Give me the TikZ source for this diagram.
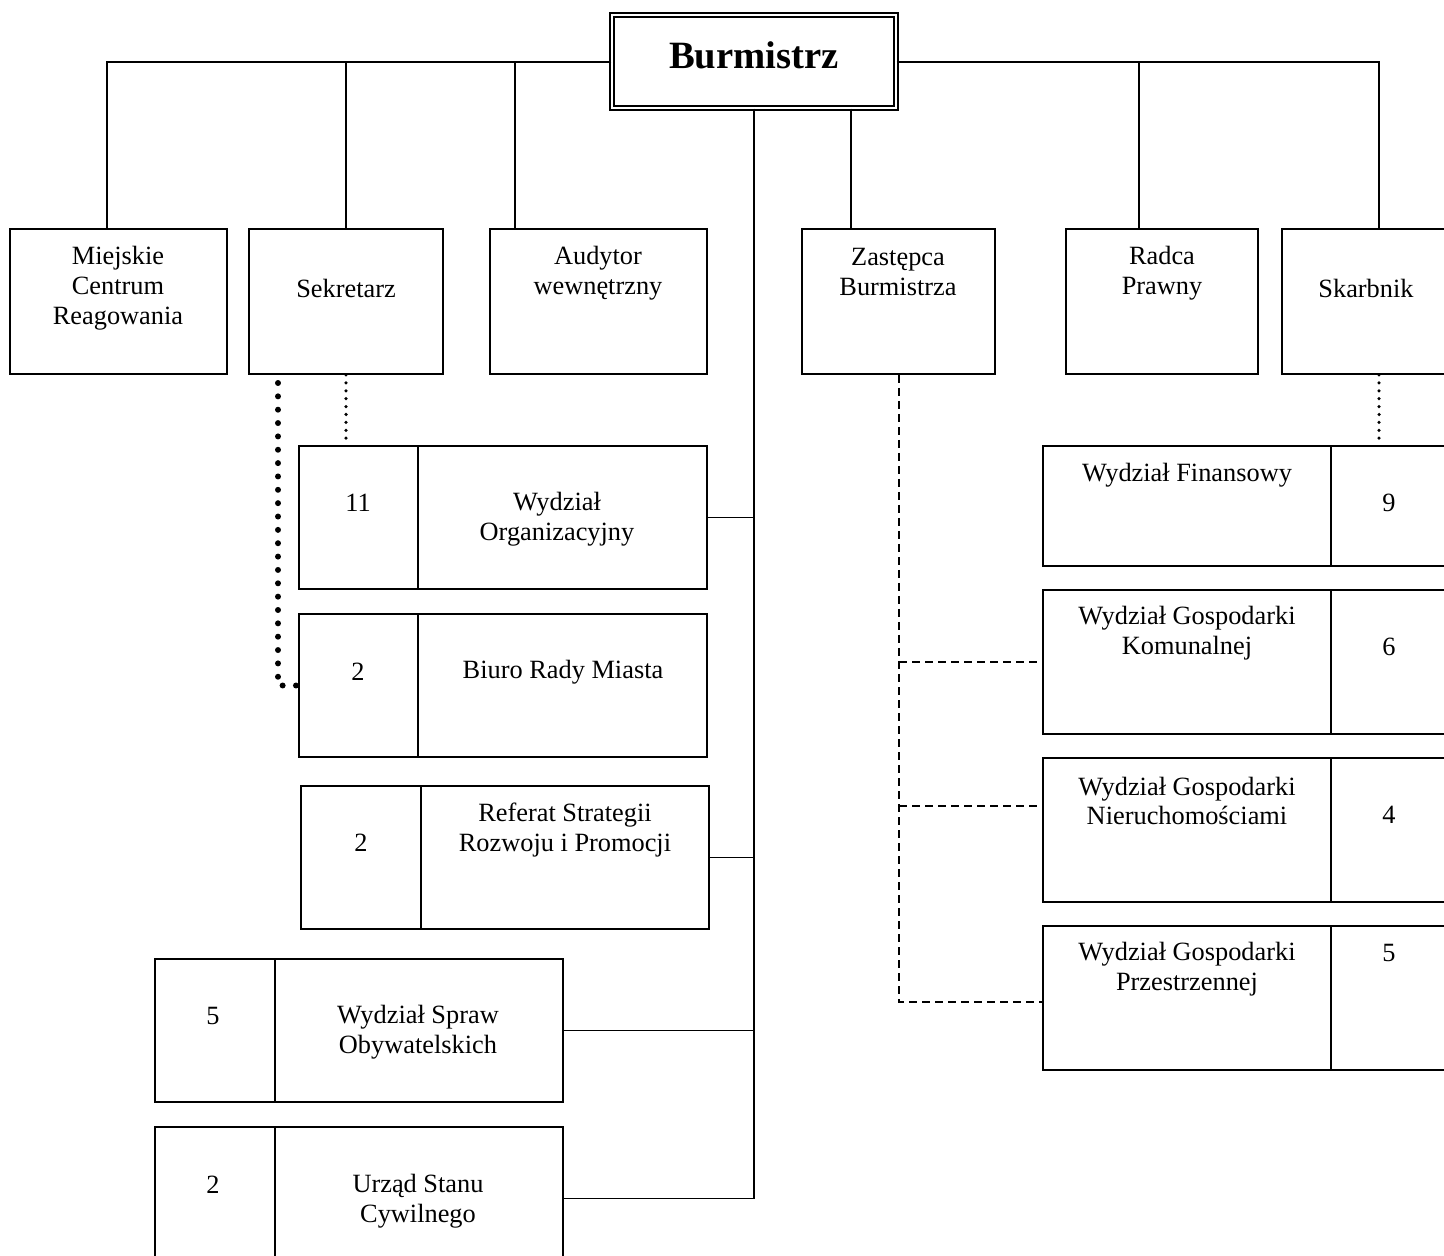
\documentclass[tikz,border=0pt]{standalone}
\usepackage{fontspec}
\setmainfont{Liberation Serif}
\usepackage{tikz}
\usetikzlibrary{positioning,fit,calc}
\tikzstyle{unitbox} = [rectangle, draw=black, line width=1.1pt, inner sep=0pt]
\tikzstyle{headbox} = [rectangle, draw=black, line width=0.8pt, double, double distance=1.6pt, inner sep=0pt]
\tikzstyle{txt} = [align=center, inner sep=0pt, font=\fontsize{15}{17}\selectfont]
\tikzstyle{link} = [line width=1.1pt]
\tikzstyle{dashlink} = [line width=1.1pt, dash pattern=on 4.6pt off 2.8pt]
\tikzstyle{dotlink} = [line width=2pt, line cap=round, dash pattern=on 0pt off 4.5pt]
\tikzstyle{bigdotlink} = [line width=3.4pt, line cap=round, dash pattern=on 0pt off 7.6pt]

\begin{document}
\begin{tikzpicture}[x=0.02cm, y=-0.02cm]
\clip (0,0) rectangle (1444,1256);
\fill[white] (0,0) rectangle (1444,1256);

% Head
\node[headbox, fit={(612,15) (896,108)}] (burm) {};
\node[font=\fontsize{22}{26}\selectfont\bfseries, inner sep=0pt] (burmtxt) at (754,55) {Burmistrz};

% Top row
\node[unitbox, fit={(10,229) (227,374)}] (mcr) {};
\node[txt] at (118,288) {Miejskie\\Centrum\\Reagowania};
\node[unitbox, fit={(249,229) (443,374)}] (sek) {};
\node[txt] at (346,288) {Sekretarz};
\node[unitbox, fit={(490,229) (707,374)}] (aud) {};
\node[txt] at (598,273) {Audytor\\wewnętrzny};
\node[unitbox, fit={(802,229) (995,374)}] (zast) {};
\node[txt] at (898,272) {Zastępca\\Burmistrza};
\node[unitbox, fit={(1066,229) (1258,374)}] (radca) {};
\node[txt] at (1162,273) {Radca\\Prawny};
\node[unitbox, fit={(1282,229) (1470,374)}] (skarb) {};
\node[txt] at (1366,288) {Skarbnik};

% Left column
\node[unitbox, fit={(299,446) (707,589)}] (org) {};
\draw[link] (418,446) -- (418,589);
\node[txt] at (358,503) {11};
\node[txt] at (557,519) {Wydział\\Organizacyjny};

\node[unitbox, fit={(299,614) (707,757)}] (brm) {};
\draw[link] (418,614) -- (418,757);
\node[txt] at (358,672) {2};
\node[txt] at (563,672) {Biuro Rady Miasta};

\node[unitbox, fit={(301,786) (709,929)}] (ref) {};
\draw[link] (421,786) -- (421,929);
\node[txt] at (361,843) {2};
\node[txt] at (565,830) {Referat Strategii\\Rozwoju i Promocji};

\node[unitbox, fit={(155,959) (563,1102)}] (wso) {};
\draw[link] (275,959) -- (275,1102);
\node[txt] at (213,1016) {5};
\node[txt] at (418,1032) {Wydział Spraw\\Obywatelskich};

\node[unitbox, fit={(155,1127) (563,1270)}] (usc) {};
\draw[link] (275,1127) -- (275,1270);
\node[txt] at (213,1185) {2};
\node[txt] at (418,1201) {Urząd Stanu\\Cywilnego};

% Right column
\node[unitbox, fit={(1043,446) (1470,566)}] (wf) {};
\draw[link] (1331,446) -- (1331,566);
\node[txt] at (1187,475) {Wydział Finansowy};
\node[txt] at (1389,503) {9};

\node[unitbox, fit={(1043,590) (1470,734)}] (wgk) {};
\draw[link] (1331,590) -- (1331,734);
\node[txt] at (1187,633) {Wydział Gospodarki\\Komunalnej};
\node[txt] at (1389,647) {6};

\node[unitbox, fit={(1043,758) (1470,902)}] (wgn) {};
\draw[link] (1331,758) -- (1331,902);
\node[txt] at (1187,801) {Wydział Gospodarki\\Nieruchomościami};
\node[txt] at (1389,815) {4};

\node[unitbox, fit={(1043,926) (1470,1070)}] (wgp) {};
\draw[link] (1331,926) -- (1331,1070);
\node[txt] at (1187,969) {Wydział Gospodarki\\Przestrzennej};
\node[txt] at (1389,953) {5};

% Top bar
\coordinate (barL) at (107,62);
\coordinate (barS) at (346,62);
\coordinate (barA) at (515,62);
\coordinate (barP) at (1139,62);
\coordinate (barR) at (1379,62);
\draw[link] (burm.west |- barL) -- (barL) -- (barL |- mcr.north);
\draw[link] (barS) -- (barS |- sek.north);
\draw[link] (barA) -- (barA |- aud.north);
\draw[link] (burm.east |- barR) -- (barR) -- (barR |- skarb.north);
\draw[link] (barP) -- (barP |- radca.north);
\coordinate (zdrop) at (851,0);
\draw[link] (zdrop |- burm.south) -- (zdrop |- zast.north);

% Trunk
\draw[link] (burm.south) -- (burm.south |- usc.east) -- (usc.east);
\draw[link] (org.east) -- (burm.south |- org.east);
\draw[link] (ref.east) -- (burm.south |- ref.east);
\draw[link] (wso.east) -- (burm.south |- wso.east);

% Sekretarz and Skarbnik
\draw[dotlink] (sek.south) -- (sek.south |- org.north);
\coordinate (sekdot) at (278,383);
\draw[bigdotlink] (sekdot) |- (brm.west);
\coordinate (skdot) at (1379,0);
\draw[dotlink] (skdot |- skarb.south) -- (skdot |- wf.north);

% Zastepca
\coordinate (zline) at (899,0);
\draw[dashlink] (zline |- zast.south) -- (zline |- 0,1002) -- (wgp.west |- 0,1002);
\draw[dashlink] (zline |- 0,662) -- (wgk.west |- 0,662);
\draw[dashlink] (zline |- 0,806) -- (wgn.west |- 0,806);
\end{tikzpicture}
\end{document}
